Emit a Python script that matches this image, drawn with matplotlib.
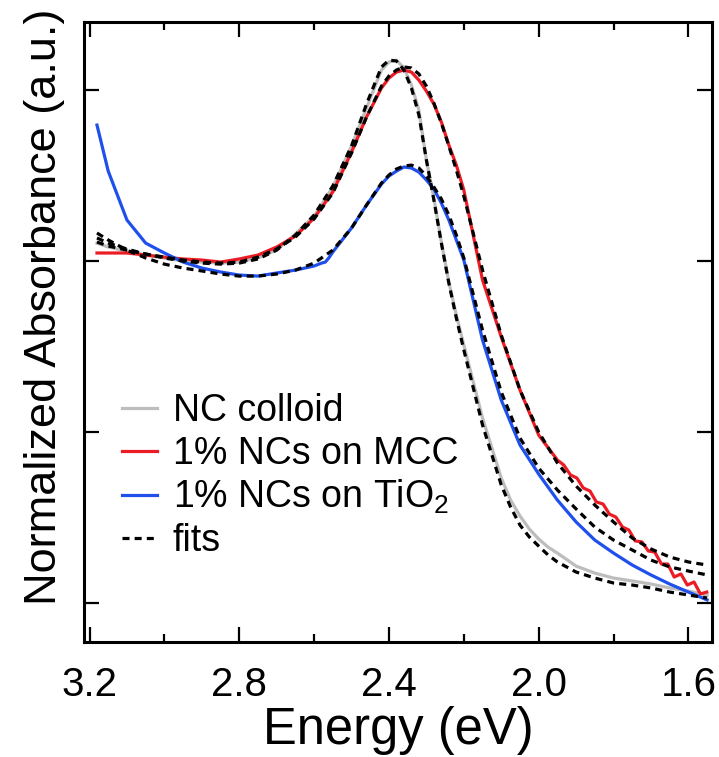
import numpy as np
import matplotlib
matplotlib.use("Agg")
import matplotlib.pyplot as plt
from matplotlib.ticker import MultipleLocator

plt.rcParams['font.family'] = ['Liberation Sans', 'DejaVu Sans']
plt.rcParams['mathtext.fontset'] = 'custom'
plt.rcParams['mathtext.rm'] = 'Liberation Sans'
plt.rcParams['mathtext.it'] = 'Liberation Sans:italic'
plt.rcParams['mathtext.bf'] = 'Liberation Sans:bold'

# energy grid shared by the MCC / TiO2 fits (eV)
energy = [3.18, 3.15, 3.10, 3.05, 3.00, 2.95, 2.90, 2.85, 2.80, 2.75, 2.70,
          2.65, 2.60, 2.55, 2.50, 2.46, 2.42, 2.40, 2.38, 2.36, 2.34, 2.32,
          2.30, 2.28, 2.26, 2.24, 2.22, 2.20, 2.15, 2.10, 2.05, 2.00, 1.95,
          1.90, 1.85, 1.80, 1.75, 1.70, 1.65, 1.60, 1.55]

# NC colloid (measured) and its fit
colloid_energy = [3.18, 3.15, 3.10, 3.05, 3.00, 2.95, 2.90, 2.85, 2.80, 2.75,
                  2.70, 2.65, 2.60, 2.55, 2.50, 2.46, 2.42, 2.40, 2.38, 2.36,
                  2.34, 2.32, 2.30, 2.28, 2.26, 2.24, 2.22, 2.20, 2.15, 2.10,
                  2.075, 2.05, 2.025, 2.00, 1.975, 1.95, 1.90, 1.85, 1.80, 1.75,
                  1.70, 1.65, 1.60, 1.55]
colloid = [2.105, 2.082, 2.058, 2.035, 2.018, 2.000, 1.994, 1.988, 1.994, 2.018,
           2.064, 2.158, 2.263, 2.433, 2.673, 2.895, 3.117, 3.164, 3.175, 3.129,
           3.029, 2.883, 2.591, 2.368, 2.111, 1.877, 1.684, 1.509, 1.082, 0.731,
           0.602, 0.509, 0.433, 0.374, 0.327, 0.292, 0.216, 0.175, 0.146, 0.129,
           0.111, 0.088, 0.070, 0.047]
fit_colloid = [2.135, 2.105, 2.070, 2.041, 2.018, 2.000, 1.988, 1.982, 1.988,
               2.012, 2.064, 2.152, 2.269, 2.439, 2.673, 2.918, 3.135, 3.175,
               3.170, 3.117, 3.012, 2.854, 2.591, 2.357, 2.105, 1.871, 1.667,
               1.480, 1.041, 0.690, 0.561, 0.456, 0.386, 0.333, 0.281, 0.240,
               0.181, 0.146, 0.117, 0.105, 0.088, 0.064, 0.047, 0.029]

# 1% NCs on MCC (measured), noisy tail read separately
mcc_energy = [3.18, 3.15, 3.10, 3.05, 3.00, 2.95, 2.90, 2.85, 2.80, 2.75, 2.70,
              2.65, 2.60, 2.55, 2.50, 2.46, 2.42, 2.40, 2.38, 2.36, 2.34, 2.32,
              2.30, 2.28, 2.26, 2.24, 2.22, 2.20, 2.15, 2.10, 2.05, 2.00, 1.95,
              1.933, 1.915, 1.898, 1.881, 1.863, 1.846, 1.828, 1.811, 1.794,
              1.776, 1.759, 1.742, 1.724, 1.707, 1.690, 1.672, 1.655, 1.638,
              1.620, 1.603, 1.585, 1.568, 1.551]
mcc = [2.047, 2.047, 2.047, 2.035, 2.023, 2.012, 2.006, 1.994, 2.012, 2.035,
       2.082, 2.146, 2.251, 2.404, 2.637, 2.842, 3.012, 3.070, 3.105, 3.117,
       3.105, 3.058, 2.994, 2.918, 2.813, 2.678, 2.561, 2.415, 1.889, 1.556,
       1.246, 0.982, 0.836,
       0.807, 0.749, 0.731, 0.673, 0.655, 0.591, 0.579, 0.520, 0.503, 0.444,
       0.427, 0.363, 0.357, 0.304, 0.298, 0.228, 0.228, 0.152, 0.170, 0.105,
       0.123, 0.053, 0.064]

# 1% NCs on TiO2 (measured)
tio2_energy = [3.18, 3.15, 3.10, 3.05, 3.00, 2.95, 2.90, 2.85, 2.80, 2.75, 2.70,
               2.65, 2.60, 2.58, 2.57, 2.56, 2.55, 2.50, 2.46, 2.42, 2.40, 2.38,
               2.36, 2.34, 2.32, 2.30, 2.28, 2.26, 2.24, 2.22, 2.20, 2.15, 2.10,
               2.05, 2.00, 1.95, 1.90, 1.85, 1.80, 1.75, 1.70, 1.65, 1.60, 1.55]
tio2 = [2.795, 2.526, 2.240, 2.105, 2.047, 1.994, 1.959, 1.936, 1.918, 1.912,
        1.930, 1.947, 1.971, 1.988, 1.994, 2.020, 2.053, 2.193, 2.327, 2.450,
        2.497, 2.526, 2.550, 2.544, 2.520, 2.474, 2.421, 2.339, 2.240, 2.123,
        2.006, 1.538, 1.187, 0.924, 0.754, 0.602, 0.474, 0.368, 0.292, 0.222,
        0.164, 0.111, 0.064, 0.018]

# fits for MCC and TiO2 (on the shared energy grid)
fit_mcc = [2.111, 2.088, 2.064, 2.041, 2.023, 2.006, 1.994, 1.988, 1.994, 2.023,
           2.070, 2.140, 2.246, 2.398, 2.632, 2.842, 3.023, 3.082, 3.117, 3.135,
           3.129, 3.094, 3.023, 2.924, 2.807, 2.673, 2.532, 2.380, 1.947, 1.567,
           1.246, 1.000, 0.819, 0.684, 0.573, 0.474, 0.380, 0.316, 0.269, 0.240,
           0.222]
fit_tio2 = [2.164, 2.123, 2.064, 2.018, 1.982, 1.959, 1.942, 1.924, 1.912, 1.912,
            1.924, 1.947, 1.988, 2.064, 2.193, 2.327, 2.456, 2.503, 2.538, 2.556,
            2.561, 2.544, 2.497, 2.433, 2.363, 2.269, 2.152, 2.018, 1.596, 1.234,
            0.965, 0.789, 0.661, 0.550, 0.444, 0.368, 0.310, 0.251, 0.211, 0.187,
            0.164]

fig = plt.figure(figsize=(7.19, 7.57), dpi=100)
ax = fig.add_axes([84 / 719, 1 - 642 / 757, 628 / 719, 620 / 757])

lw = 2.3
ax.plot(colloid_energy, colloid, color='#bdbdbd', lw=lw, label='NC colloid')
ax.plot(mcc_energy, mcc, color='#ec1c24', lw=lw, label='1% NCs on MCC')
ax.plot(tio2_energy, tio2, color='#1f50ec', lw=lw, label='1% NCs on TiO$_2$')
dash = (2.2, 1.6)
ax.plot(colloid_energy, fit_colloid, color='black', lw=lw, ls='--', dashes=dash,
        label='fits')
ax.plot(energy, fit_mcc, color='black', lw=lw, ls='--', dashes=dash)
ax.plot(energy, fit_tio2, color='black', lw=lw, ls='--', dashes=dash)

ax.set_xlim(3.2147, 1.537)
ax.set_ylim(-0.228, 3.398)
ax.xaxis.set_minor_locator(MultipleLocator(0.2))
ax.set_xticks([3.2, 2.8, 2.4, 2.0, 1.6])
ax.set_xticklabels(['3.2', '2.8', '2.4', '2.0', '1.6'])
ax.set_yticks([0, 1, 2, 3])
ax.tick_params(axis='y', labelleft=False)
ax.tick_params(which='both', direction='in', top=True, right=True, width=1.6)
ax.tick_params(which='major', length=11)
ax.tick_params(which='minor', length=6)
ax.tick_params(axis='x', labelsize=29, pad=17)
for s in ax.spines.values():
    s.set_linewidth(2.2)

ax.set_xlabel('Energy (eV)', fontsize=36.5, labelpad=2)
ax.set_ylabel('Normalized Absorbance (a.u.)', fontsize=32.5)
ax.yaxis.set_label_coords(-0.03, 0.54)

ax.legend(loc='upper left', bbox_to_anchor=(0.06, 0.401), frameon=False,
          fontsize=27, handlelength=0.93, handletextpad=0.43, labelspacing=0.17,
          borderpad=0, borderaxespad=0)

fig.savefig('out.png', dpi=100)
